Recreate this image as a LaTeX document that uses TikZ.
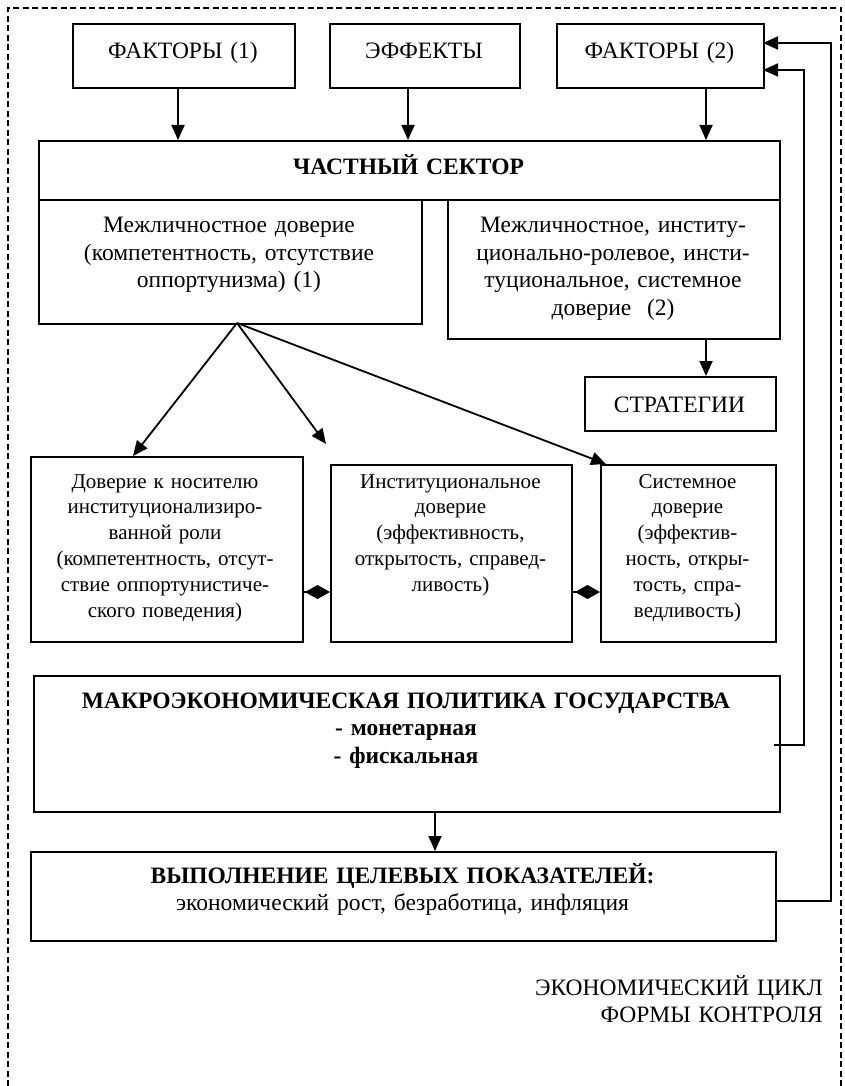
\documentclass[tikz,border=0pt]{standalone}
\usepackage{fontspec}
\setmainfont{Liberation Serif}
\usetikzlibrary{arrows.meta}
\newcommand\bigtxt{\fontsize{23.5pt}{27.5pt}\selectfont}
\newcommand\smtxt{\fontsize{21pt}{25.8pt}\selectfont}
\begin{document}
\begin{tikzpicture}[x=1pt,y=-1pt,
  box/.style={draw, line width=1.8pt, inner sep=0pt, anchor=north west},
  txt/.style={inner sep=0pt, font=\bigtxt, align=center, anchor=base},
  stxt/.style={inner sep=0pt, font=\smtxt, align=center, anchor=base},
  arr/.style={line width=1.8pt, -{Triangle[length=15pt,width=13pt]}},
  dia/.style={line width=1.8pt, -{Diamond[length=25pt,width=14pt]}},
  frame/.style={line width=1.3pt, dash pattern=on 6pt off 3.5pt}]
\useasboundingbox (0,0) rectangle (844,1086);
\draw[frame] (8,1086) -- (8,8) -- (841,8) -- (841,1086);

% top row
\node[box, minimum width=222pt, minimum height=64pt] (F1) at (72,23) {};
\node[txt, text width=218pt] (F1t) at (183,59) {ФАКТОРЫ (1)};
\node[box, minimum width=190pt, minimum height=64pt] (E) at (329,23) {};
\node[txt, text width=186pt] (Et) at (424,59) {ЭФФЕКТЫ};
\node[box, minimum width=207pt, minimum height=64pt] (F2) at (556,23) {};
\node[txt, text width=203pt] (F2t) at (659.5,59) {ФАКТОРЫ (2)};

% private sector
\node[box, minimum width=741pt, minimum height=59pt] (CS) at (38,140) {};
\node[txt, text width=737pt] (CSt) at (408.5,175) {\textbf{ЧАСТНЫЙ СЕКТОР}};
\node[box, minimum width=383pt, minimum height=124pt] (L1) at (38,199) {};
\node[txt, text width=379pt] (L1t) at (229,232.5) {Межличностное доверие\\(компетентность, отсутствие\\оппортунизма) (1)};
\node[box, minimum width=332pt, minimum height=139pt] (R1) at (447,199) {};
\node[txt, text width=328pt] (R1t) at (613,232.5) {Межличностное, институ-\\ционально-ролевое, инсти-\\туциональное, системное\\доверие\ \ (2)};
\node[box, minimum width=191pt, minimum height=54pt] (STR) at (584,376) {};
\node[txt, text width=187pt] (STRt) at (679.5,412) {СТРАТЕГИИ};

% trust boxes
\node[box, minimum width=272pt, minimum height=185pt] (A) at (30,456) {};
\node[stxt, text width=268pt] (At) at (165,488) {Доверие к носителю\\институционализиро-\\ванной роли\\(компетентность, отсут-\\ствие оппортунистиче-\\ского поведения)};
\node[box, minimum width=241pt, minimum height=177pt] (B) at (330,464) {};
\node[stxt, text width=237pt] (Bt) at (450.5,488) {Институциональное\\доверие\\(эффективность,\\открытость, справед-\\ливость)};
\node[box, minimum width=175pt, minimum height=177pt] (C) at (600,464) {};
\node[stxt, text width=171pt] (Ct) at (687.5,488) {Системное\\доверие\\(эффектив-\\ность, откры-\\тость, спра-\\ведливость)};

% macro policy
\node[box, minimum width=746pt, minimum height=136pt] (MAK) at (33,675) {};
\node[txt, text width=742pt] (MAKt) at (406,708) {\textbf{МАКРОЭКОНОМИЧЕСКАЯ ПОЛИТИКА ГОСУДАРСТВА}\\\textbf{- монетарная}\\\textbf{- фискальная}};
\node[box, minimum width=745pt, minimum height=89pt] (VYP) at (30,851) {};
\node[txt, text width=741pt] (VYPt) at (402.5,883) {\textbf{ВЫПОЛНЕНИЕ ЦЕЛЕВЫХ ПОКАЗАТЕЛЕЙ:}\\экономический рост, безработица, инфляция};

% bottom right label
\node[txt, text width=400pt, align=right, anchor=base east] (cyc) at (823,995) {ЭКОНОМИЧЕСКИЙ ЦИКЛ\\ФОРМЫ КОНТРОЛЯ};

% helper coordinates
\coordinate (c1) at (178,0);
\coordinate (c2) at (408,0);
\coordinate (c3) at (706,0);
\coordinate (c4) at (435,0);
\coordinate (dy) at (0,592);
\coordinate (apex) at (237,323);
\coordinate (e1) at (133,456);
\coordinate (e2) at (326,444);
\coordinate (e3) at (606,464);
\coordinate (fb1) at (774,745);
\coordinate (k1) at (804,70);
\coordinate (in1) at (763,70);
\coordinate (fb2) at (775,901);
\coordinate (k2) at (831,43);
\coordinate (in2) at (763,43);

% connectors
\draw[arr] (c1 |- F1.south) -- (c1 |- CS.north);
\draw[arr] (c2 |- E.south) -- (c2 |- CS.north);
\draw[arr] (c3 |- F2.south) -- (c3 |- CS.north);
\draw[arr] (c3 |- R1.south) -- (c3 |- STR.north);
\draw[arr] (apex) -- (e1);
\draw[arr] (apex) -- (e2);
\draw[arr] (apex) -- (e3);
\draw[dia] (A.east |- dy) -- (B.west |- dy);
\draw[dia] (B.east |- dy) -- (C.west |- dy);
\draw[arr] (c4 |- MAK.south) -- (c4 |- VYP.north);
\draw[arr] (fb1) -| (k1) -- (in1);
\draw[arr] (fb2) -| (k2) -- (in2);
\end{tikzpicture}
\end{document}
